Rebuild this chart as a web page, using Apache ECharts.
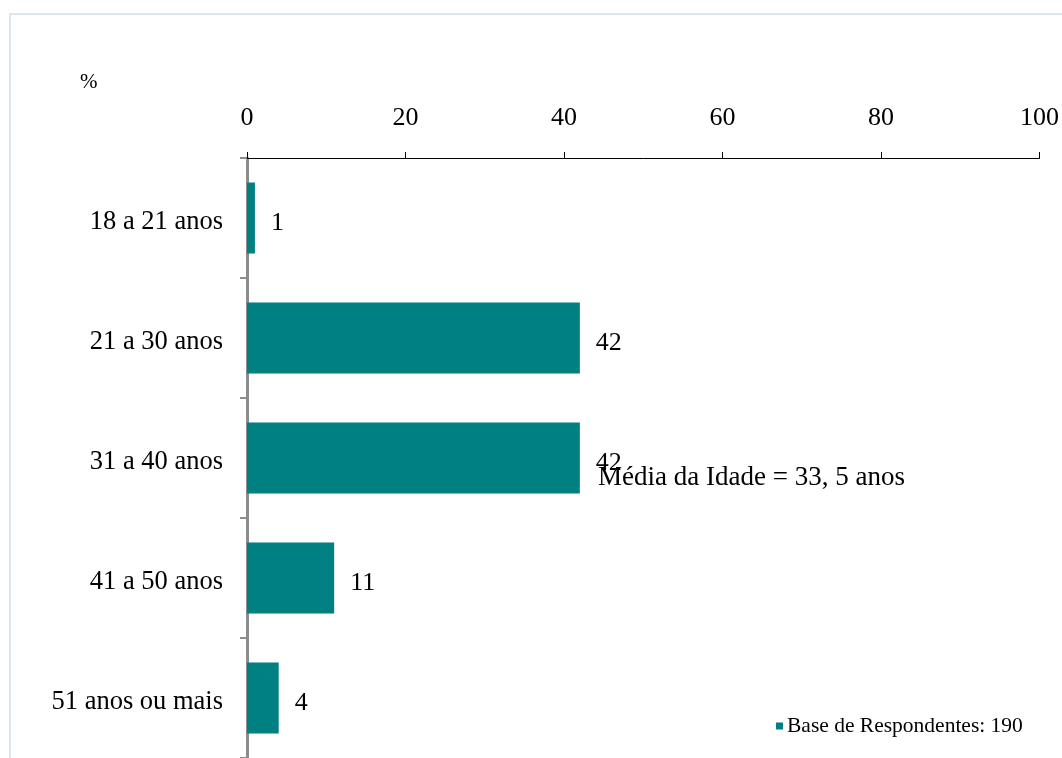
<!DOCTYPE html>
<html>
<head>
<meta charset="utf-8">
<script src="https://cdn.jsdelivr.net/npm/echarts@6/dist/echarts.min.js"></script>
<style>
  html, body { margin: 0; padding: 0; background: #fff; }
  #chart { width: 1062px; height: 758px; }
</style>
</head>
<body>
<div id="chart"></div>
<script>
// Faixas etárias dos respondentes (%)
const categories = ['18 a 21 anos', '21 a 30 anos', '31 a 40 anos', '41 a 50 anos', '51 anos ou mais'];
const values = [1, 42, 42, 11, 4];
const seriesName = 'Base de Respondentes: 190';
const axisMin = 0;
const axisMax = 100;
const axisStep = 20;
const unitLabel = '%';
const noteText = 'Média da Idade = 33, 5 anos';

const font = 'Liberation Serif, Tinos, Times New Roman, DejaVu Serif, serif';
const teal = '#008080';

const chart = echarts.init(document.getElementById('chart'), null, { renderer: 'canvas' });

chart.setOption({
  animation: false,
  backgroundColor: '#ffffff',
  textStyle: { fontFamily: font, color: '#000' },
  grid: { left: 247, right: 22, top: 158, bottom: -5, containLabel: false },
  legend: {
    show: true,
    left: 771,
    top: 710,
    itemWidth: 7,
    itemHeight: 7,
    itemGap: 5,
    icon: 'rect',
    selectedMode: false,
    textStyle: { fontFamily: font, fontSize: 21.5, color: '#000', padding: [0, 0, 0, -1] },
    data: [seriesName]
  },
  xAxis: {
    type: 'value',
    position: 'top',
    min: axisMin,
    max: axisMax,
    interval: axisStep,
    splitLine: { show: false },
    axisLine: { show: true, lineStyle: { color: '#000', width: 1 } },
    axisTick: { show: true, length: 6, lineStyle: { color: '#000', width: 1 } },
    axisLabel: { fontFamily: font, fontSize: 26, color: '#000', margin: 27 }
  },
  yAxis: {
    type: 'category',
    inverse: true,
    data: categories,
    axisLine: { show: true, lineStyle: { color: '#8c8c8c', width: 3 } },
    axisTick: { show: true, length: 7, lineStyle: { color: '#8c8c8c', width: 2 } },
    axisLabel: {
      fontFamily: font, fontSize: 26.5, color: '#000', margin: 24,
      verticalAlign: 'top', lineHeight: 8
    }
  },
  series: [{
    name: seriesName,
    type: 'bar',
    data: values,
    barWidth: 71,
    itemStyle: { color: teal },
    label: {
      show: true,
      position: 'right',
      distance: 16,
      offset: [0, 5],
      fontFamily: font,
      fontSize: 26,
      color: '#000'
    },
    z: 1
  }],
  graphic: [
    {
      type: 'rect',
      silent: true,
      z: -10,
      shape: { x: 10, y: 14, width: 1200, height: 900 },
      style: { fill: 'none', stroke: '#dce6f2', lineWidth: 2 }
    },
    {
      type: 'text',
      left: 80,
      top: 72,
      style: { text: unitLabel, fontFamily: font, fontSize: 21, fill: '#000' }
    },
    {
      type: 'text',
      left: 598,
      top: 464,
      z: 10,
      style: { text: noteText, fontFamily: font, fontSize: 27, fill: '#000' }
    }
  ]
});
</script>
</body>
</html>
